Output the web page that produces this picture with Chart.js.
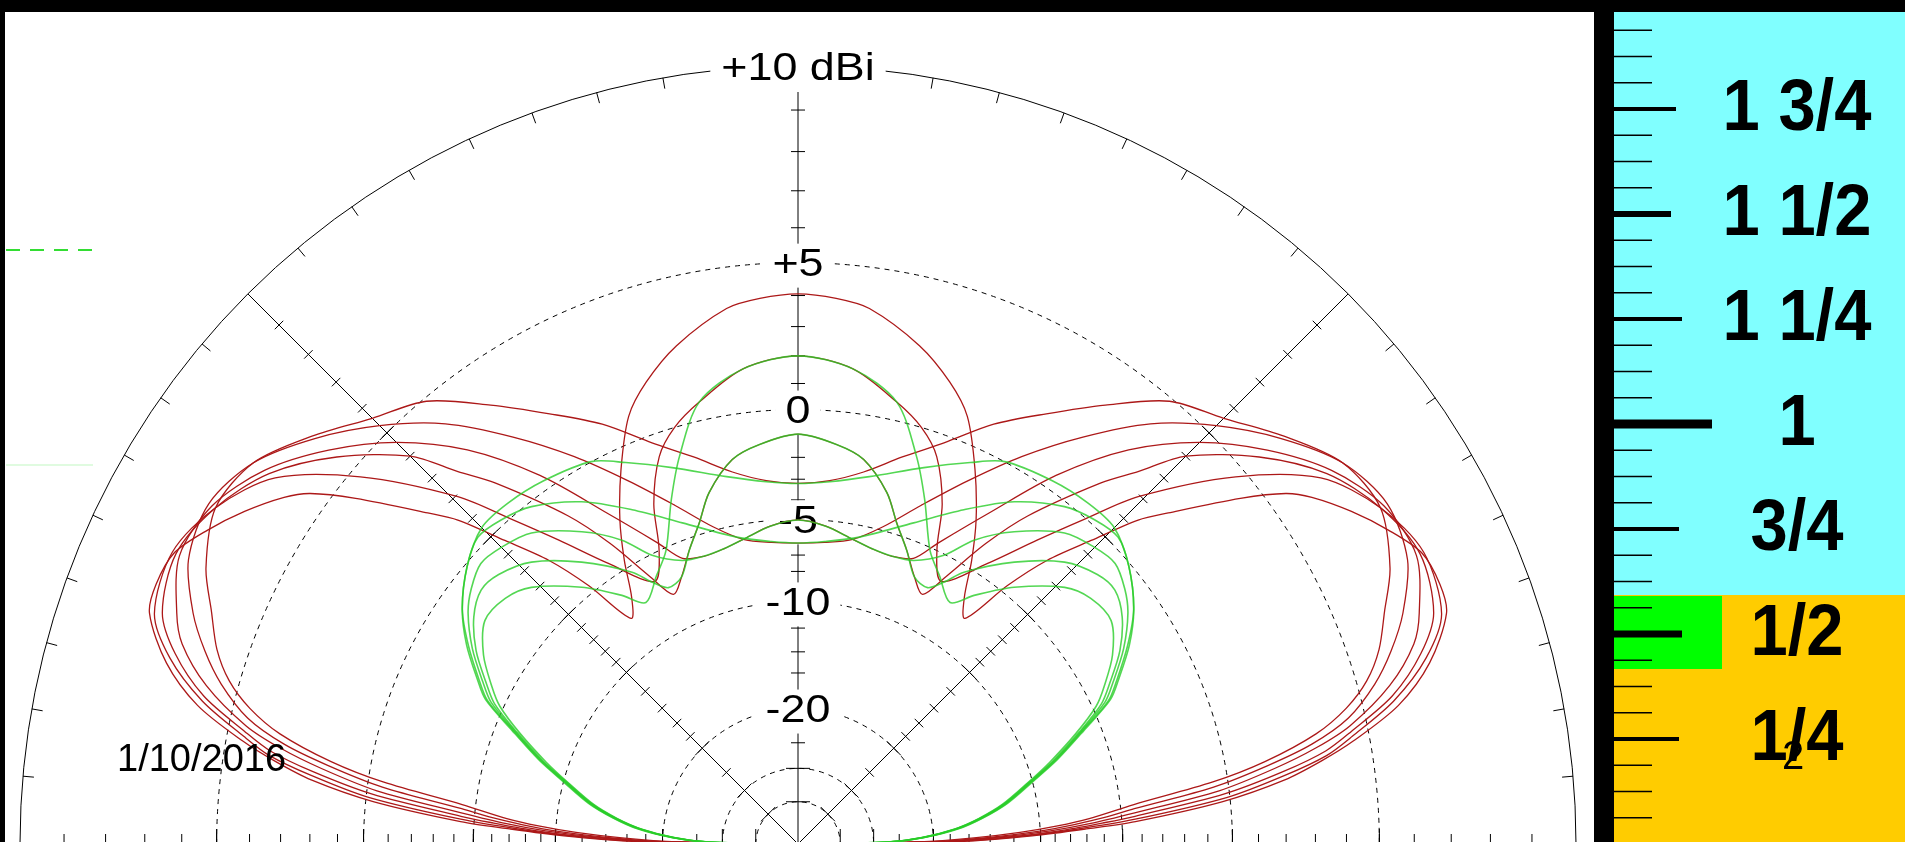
<!DOCTYPE html>
<html>
<head>
<meta charset="utf-8">
<title>Elevation pattern</title>
<script src="https://cdn.jsdelivr.net/npm/chart.js@4.4.1/dist/chart.umd.min.js"></script>
<style>
  html, body { margin: 0; padding: 0; background: #000; overflow: hidden; }
  canvas { display: block; }
</style>
</head>
<body>
<canvas id="pattern" width="1905" height="842"></canvas>
<script>
// elevation patterns, [elevation deg, gain dBi], read for 0..90 deg, the plot is symmetric
const red1 = [[0,-60],[1,-22],[2,-15.5],[3,-11.5],[4,-8.8],[5,-6.8],[6.7,-4.3],[8.5,-0.6],[10,1.5],[12,3.4],[13.9,4.5],[16,5.3],[18.5,5.9],[21.6,6.4],[25,7.0],[30,7.5],[35,7.3],[40,6.5],[45,5.6],[50,4.9],[55,3.6],[60,2.3],[65,1.1],[70,-0.3],[75,-1.4],[80,-2.4],[85,-3.0],[90,-3.2]];
const red2 = [[0,-60],[1,-20],[2,-14],[3,-10.3],[4,-7.8],[5,-5.8],[6,-4.3],[7.8,-0.6],[9.5,1.6],[11,3.2],[12.9,4.5],[15.5,5.5],[18,6.2],[20.9,6.85],[25,7.5],[30,7.7],[35,7.3],[40,6.4],[45,5.3],[50,4.0],[55,2.3],[60,0.5],[65,-1.4],[70,-3.2],[75,-4.8],[80,-5.85],[85,-6.2],[90,-6.3]];
const red3 = [[0,-60],[1,-19],[2,-13],[3,-9.3],[4,-6.8],[5.3,-4.3],[7.2,-0.4],[9,1.8],[10.5,3.3],[12.1,4.5],[15,5.9],[18,6.85],[20.4,7.25],[25,7.75],[30,7.6],[35,6.95],[40,5.9],[45,4.6],[50,2.9],[55,0.6],[60,-2.2],[65,-4.6],[68,-5.9],[72,-6.2],[76,-6.1],[80,-5.8],[85,-5.3],[90,-5.03]];
const red4 = [[0,-60],[1,-18],[2,-12],[3,-8.4],[4,-5.9],[4.7,-4.3],[6.7,-0.2],[8.5,2.1],[10,3.6],[11.5,4.5],[14,5.9],[17,6.95],[20,7.6],[25,7.85],[30,7.5],[35,6.8],[40,5.6],[45,4.0],[47.6,2.56],[50,1.4],[55,-1.4],[58,-3.5],[61,-6.0],[63.5,-7.6],[66.4,-6.87],[69.7,-5.61],[72.9,-4.42],[75.8,-3.11],[80.3,-1.85],[84.5,-1.36],[90,-1.0]];
const red5 = [[0,-60],[1,-17],[2,-11.3],[3,-7.7],[4.2,-4.3],[6.2,-0.1],[8,2.1],[9.5,3.6],[11,4.5],[13.5,5.9],[16.5,7.05],[19.7,7.78],[25,7.95],[30,7.5],[35,6.6],[40,4.7],[45.6,1.93],[48.5,0.0],[51.8,-2.0],[56,-4.3],[61.4,-6.4],[64.7,-4.98],[67,-2.8],[70.3,-0.93],[73.5,0.0],[77.4,0.71],[83.4,1.65],[90,2.0]];
const red6 = [[0,-60],[1,-16],[2,-10.6],[3,-7.0],[3.8,-4.3],[5.7,-0.3],[7.5,2.1],[9,3.4],[10.5,4.5],[13,6.0],[16,7.1],[19.6,7.9],[22,8.0],[25,7.9],[28,7.4],[31,6.8],[34,6.1],[35.7,5.56],[38,4.4],[41.8,2.3],[43.6,1.34],[46,-0.5],[48.7,-2.4],[51,-4.6],[53.5,-7.5],[56,-6.5],[58.5,-4.6],[61.2,-2.77],[64.7,-0.82],[68.4,0.98],[71.8,1.93],[76.3,2.85],[82.4,3.74],[86,3.95],[90,4.05]];

const green1 = [[0,-60],[1.3,-26.5],[3,-21],[5.4,-17.0],[8,-14.5],[11,-12.2],[15,-9.9],[18,-8.0],[21.7,-5.9],[24.8,-4.0],[27.2,-3.2],[31,-2.0],[35,-1.0],[40,-0.1],[45,0.5],[49.6,0.51],[55,0.35],[61.6,0.01],[65.7,-0.64],[71.5,-1.55],[79,-2.56],[85,-3.05],[90,-3.2]];
const green2 = [[0,-60],[1.3,-26.7],[3,-21.2],[5.4,-17.2],[8,-14.6],[11,-12.3],[15,-10.0],[18,-8.1],[21.7,-6.0],[24.8,-4.1],[27.2,-3.3],[31,-2.1],[35,-1.0],[40,-0.1],[43.8,0.35],[47.5,0.2],[51.7,-0.18],[57.7,-1.21],[63.6,-2.61],[70.2,-4.14],[78.7,-5.63],[85,-6.15],[90,-6.3]];
const green3 = [[0,-60],[1.3,-26.8],[3,-21.3],[5.4,-17.3],[8,-14.7],[11,-12.4],[15,-10.1],[18,-8.2],[21.7,-6.1],[24.8,-4.3],[27.2,-3.5],[31,-2.3],[35,-1.3],[38,-0.8],[41.5,-0.44],[45,-0.6],[49.4,-1.01],[55.3,-2.31],[59.9,-3.65],[63.2,-5.06],[67.8,-6.0],[72,-6.2],[76,-6.1],[80,-5.8],[85,-5.3],[90,-5.03]];
const green4 = [[0,-60],[1.3,-26.9],[3,-21.4],[5.4,-17.4],[8,-14.8],[11,-12.5],[15,-10.2],[18,-8.3],[21.7,-6.2],[24.8,-4.5],[27.2,-3.7],[31,-2.5],[35,-1.6],[38.7,-1.16],[42,-1.3],[46.6,-1.94],[52.5,-3.45],[58.6,-5.33],[60.9,-6.38],[63.2,-7.1],[66.4,-6.87],[69.7,-5.61],[72.9,-4.42],[75.8,-3.11],[80.3,-1.85],[84.5,-1.36],[90,-1.0]];
const green5 = [[0,-60],[1.3,-27],[3,-21.5],[5.4,-17.5],[8,-14.9],[11,-12.6],[15,-10.3],[18,-8.5],[21.7,-6.4],[24.8,-4.8],[27.2,-4.0],[31,-2.9],[35.5,-2.09],[40,-2.2],[43.9,-2.75],[49.9,-4.43],[54.7,-6.09],[57.8,-7.21],[62.1,-6.19],[65.8,-5.14],[69.8,-2.9],[73,-1.19],[77.4,0.71],[83.4,1.65],[90,2.0]];

const ringDb = [5, 0, -5, -10, -20, -30, -40];
const ringLabels = ['+5', '0', '-5', '-10', '-20'];
const topLabel = '+10 dBi';
const dateLabel = '1/10/2016';
const rulerLabels = ['1 3/4', '1 1/2', '1 1/4', '1', '3/4', '1/2', '1/4'];
const rulerValues = [1.75, 1.5, 1.25, 1, 0.75, 0.5, 0.25];

const redCurves = [red1, red2, red3, red4, red5, red6];
const greenCurves = [green1, green2, green3, green4, green5];

// ARRL log scale: 2 dB per 0.89 step, +10 dBi on the outer ring
const arrl = db => Math.pow(0.89, (10 - db) / 2);

function polar(el, db) {
  const r = arrl(db), a = el * Math.PI / 180;
  return { x: r * Math.cos(a), y: r * Math.sin(a) };
}

function trace(curve) {
  const front = curve.map(([el, db]) => polar(el, db));
  const back = curve.slice(0, -1).reverse().map(([el, db]) => polar(180 - el, db));
  return front.concat(back);
}

function stretchText(ctx, txt, x, y, sx) {
  ctx.save();
  ctx.translate(x, y);
  ctx.scale(sx, 1);
  ctx.fillText(txt, 0, 0);
  ctx.restore();
}

const polarGrid = {
  id: 'polarGrid',
  beforeDraw(chart) {
    const { ctx, width, height } = chart;
    ctx.save();
    ctx.fillStyle = '#000';
    ctx.fillRect(0, 0, width, height);
    ctx.fillStyle = '#fff';
    ctx.fillRect(5, 12, 1589, height - 12);
    ctx.fillStyle = '#80ffff';
    ctx.fillRect(1614, 12, width - 1614, 583);
    ctx.fillStyle = '#ffcc00';
    ctx.fillRect(1614, 595, width - 1614, height - 595);
    ctx.fillStyle = '#00ff00';
    ctx.fillRect(1614, 596, 108, 73);

    // stray marks at the left edge
    ctx.strokeStyle = '#33dd33';
    ctx.lineWidth = 2;
    ctx.setLineDash([14, 10]);
    ctx.beginPath(); ctx.moveTo(6, 250); ctx.lineTo(93, 250); ctx.stroke();
    ctx.setLineDash([]);
    ctx.strokeStyle = 'rgba(0,220,0,0.12)';
    ctx.beginPath(); ctx.moveTo(6, 465); ctx.lineTo(93, 465); ctx.stroke();
    ctx.restore();
  },
  beforeDatasetsDraw(chart) {
    const { ctx } = chart;
    const xs = chart.scales.x, ys = chart.scales.y;
    const cx = xs.getPixelForValue(0), cy = ys.getPixelForValue(0);
    const R = xs.getPixelForValue(1) - cx;

    ctx.save();
    ctx.beginPath();
    ctx.rect(5, 12, 1589, 830);
    ctx.clip();
    ctx.strokeStyle = '#000';
    ctx.lineWidth = 1;

    ctx.beginPath();
    ctx.arc(cx, cy, R, Math.PI, 2 * Math.PI);
    ctx.stroke();

    ctx.setLineDash([5, 5]);
    ringDb.forEach(db => {
      ctx.beginPath();
      ctx.arc(cx, cy, arrl(db) * R, Math.PI, 2 * Math.PI);
      ctx.stroke();
    });
    ctx.setLineDash([]);

    // ticks in dB along the radials
    const tickDb = [];
    for (let d = 9; d >= -10; d--) tickDb.push(d);
    tickDb.push(-12, -14, -16, -18, -25);

    const radials = [
      { a: 0, s: 10, l: 15 }, { a: 45, s: 6, l: 10 }, { a: 90, s: 7, l: 12 },
      { a: 135, s: 6, l: 10 }, { a: 180, s: 10, l: 15 }
    ];
    radials.forEach(({ a, s, l }) => {
      const t = a * Math.PI / 180;
      const ux = Math.cos(t), uy = -Math.sin(t);
      ctx.beginPath();
      ctx.moveTo(cx, cy);
      ctx.lineTo(cx + R * ux, cy + R * uy);
      ctx.stroke();
      const mark = (db, half) => {
        const r = arrl(db) * R;
        const px = cx + r * ux, py = cy + r * uy;
        ctx.beginPath();
        ctx.moveTo(px - half * uy, py + half * ux);
        ctx.lineTo(px + half * uy, py - half * ux);
        ctx.stroke();
      };
      tickDb.forEach(db => mark(db, s));
      ringDb.forEach(db => mark(db, l));
    });

    // angle ticks every 5 deg on the outer ring
    for (let a = 5; a < 180; a += 5) {
      if (a % 45 === 0) continue;
      const t = a * Math.PI / 180;
      const ux = Math.cos(t), uy = -Math.sin(t);
      ctx.beginPath();
      ctx.moveTo(cx + R * ux, cy + R * uy);
      ctx.lineTo(cx + (R - 11) * ux, cy + (R - 11) * uy);
      ctx.stroke();
    }

    // labels on the vertical axis
    ctx.font = '38px "Liberation Sans", Arial, sans-serif';
    ctx.textAlign = 'center';
    ctx.textBaseline = 'middle';
    const sx = 1.18;
    const labelAt = (txt, y, pad) => {
      const w = ctx.measureText(txt).width * sx;
      ctx.fillStyle = '#fff';
      ctx.fillRect(cx - w / 2 - pad, y - 22, w + 2 * pad, 44);
      ctx.fillStyle = '#000';
      stretchText(ctx, txt, cx, y, sx);
    };
    labelAt(topLabel, cy - R + 4, 11);
    ringLabels.forEach((txt, i) => labelAt(txt, cy - arrl(ringDb[i]) * R + 3, 10));
    ctx.restore();
  },
  afterDatasetsDraw(chart) {
    const { ctx, height } = chart;
    ctx.save();
    ctx.fillStyle = '#000';
    ctx.font = '38px "Liberation Sans", Arial, sans-serif';
    ctx.textAlign = 'left';
    ctx.textBaseline = 'alphabetic';
    ctx.fillText(dateLabel, 117, 771);

    // ruler on the right
    ctx.fillRect(1594, 12, 20, height - 12);
    const yOne = 424, gap = 105;
    ctx.lineWidth = 1.5;
    ctx.strokeStyle = '#000';
    for (let k = -15; k <= 15; k++) {
      if (k % 4 === 0) continue;
      const y = yOne + k * gap / 4;
      ctx.beginPath(); ctx.moveTo(1614, y); ctx.lineTo(1652, y); ctx.stroke();
    }
    const majLen = [62, 57, 68, 98, 65, 68, 65];
    const majW = [4, 6, 4, 9, 4, 7, 4];
    ctx.font = 'bold 72px "Liberation Sans", Arial, sans-serif';
    ctx.textAlign = 'center';
    ctx.textBaseline = 'middle';
    rulerValues.forEach((v, i) => {
      const y = yOne + (1 - v) * 4 * gap;
      ctx.fillRect(1614, y - majW[i] / 2, majLen[i], majW[i]);
      stretchText(ctx, rulerLabels[i], 1797, y + 1, 0.93);
    });
    ctx.font = '40px "Liberation Sans", Arial, sans-serif';
    ctx.fillText('2', 1793, 758);
    ctx.restore();
  }
};

const datasets = [];
redCurves.forEach(c => datasets.push({
  data: trace(c), showLine: true, pointRadius: 0, tension: 0.3,
  borderColor: 'rgb(172,24,24)', borderWidth: 1.3, order: 2
}));
greenCurves.forEach(c => datasets.push({
  data: trace(c), showLine: true, pointRadius: 0, tension: 0.3,
  borderColor: 'rgba(40,205,40,0.8)', borderWidth: 1.6, order: 1
}));

new Chart(document.getElementById('pattern').getContext('2d'), {
  type: 'scatter',
  data: { datasets },
  options: {
    responsive: false,
    animation: false,
    devicePixelRatio: 1,
    events: [],
    layout: { padding: 0 },
    plugins: { legend: { display: false }, tooltip: { enabled: false } },
    scales: {
      x: { type: 'linear', display: false, bounds: 'data', min: -798 / 778, max: 1107 / 778 },
      y: { type: 'linear', display: false, bounds: 'data', min: 2 / 778, max: 844 / 778 }
    }
  },
  plugins: [polarGrid]
});
</script>
</body>
</html>
